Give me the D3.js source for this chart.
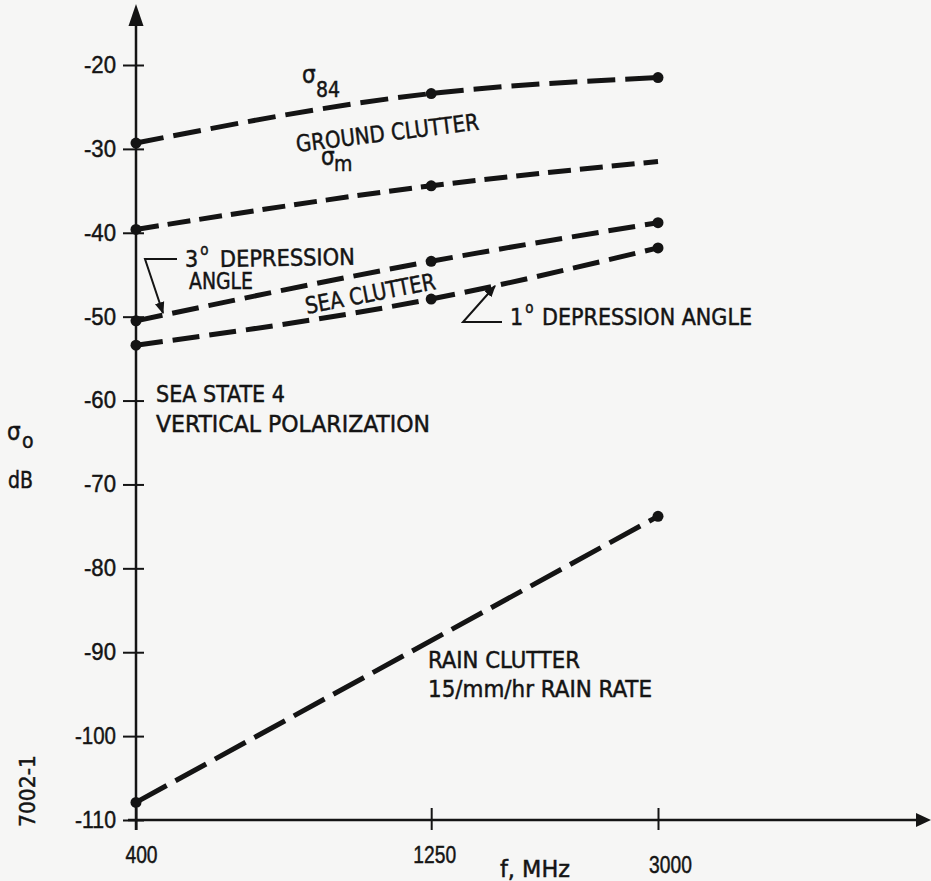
<!DOCTYPE html>
<html>
<head>
<meta charset="utf-8">
<script src="https://cdn.jsdelivr.net/npm/d3@7"></script>
<style>
html, body { margin: 0; padding: 0; background: #f6f6f5; }
svg { display: block; font-family: "DejaVu Sans Condensed", "Liberation Sans Narrow", "DejaVu Sans", sans-serif; font-stretch: condensed; }
svg text { stroke: #141414; stroke-width: 0.45px; }
</style>
</head>
<body>
<div id="container"></div>
<script>
const width = 931;
const height = 881;
const ink = "#141414";

// x: frequency, MHz   y: sigma_o, dB
const freqs = [400, 1250, 3000];
const freqTicks = [400, 1250, 3000];
const dbTicks = [-20, -30, -40, -50, -60, -70, -80, -90, -100, -110];

const ground84 = [-29.3, -23.4, -21.5];
const groundMedian = [-39.6, -34.4, -31.5];
const sea3deg = [-50.5, -43.4, -38.8];
const sea1deg = [-53.4, -47.9, -41.8];
const rainFreqs = [400, 3000];
const rain = [-107.9, -73.8];

// which points carry a dot
const series = [
    { key: "g84", f: freqs, v: ground84, dots: [0, 1, 2] },
    { key: "gm", f: freqs, v: groundMedian, dots: [0, 1] },
    { key: "s3", f: freqs, v: sea3deg, dots: [0, 1, 2] },
    { key: "s1", f: freqs, v: sea1deg, dots: [0, 1, 2] },
    { key: "rain", f: rainFreqs, v: rain, dots: [0, 1] },
];
const dashes = { g84: "28,10", gm: "23,9", s3: "27,10", s1: "27,10", rain: "35,10" };

const x = d3.scaleLog().domain([400, 3000]).range([136, 658]);
const y = d3.scaleLinear().domain([-110, -20]).range([820, 65]);

const svg = d3.select("#container")
    .append("svg")
    .attr("width", width)
    .attr("height", height);

// axes
const yAxis = svg.append("g")
    .attr("transform", `translate(${x(400)},0)`)
    .call(d3.axisLeft(y).tickValues(dbTicks).tickSize(13).tickPadding(7)
        .tickFormat((d) => "-" + Math.abs(d)));
const xAxis = svg.append("g")
    .attr("transform", `translate(0,${y(-110)})`)
    .call(d3.axisBottom(x).tickValues(freqTicks).tickSize(10).tickPadding(17)
        .tickFormat(d3.format("d")));
[yAxis, xAxis].forEach((g) => {
    g.select(".domain").remove();
    g.selectAll("line").attr("stroke", ink).attr("stroke-width", 2);
    g.selectAll("text").attr("fill", ink).attr("font-size", 23)
        .attr("font-family", null)
        .attr("lengthAdjust", "spacingAndGlyphs");
});
yAxis.selectAll(".tick line").attr("x1", 8);
yAxis.selectAll(".tick text").attr("textLength", (d) => (d <= -100 ? 41 : 32));
xAxis.selectAll(".tick line").attr("y1", -12);
xAxis.selectAll(".tick text")
    .attr("textLength", (d) => String(d).length * 10.7)
    .attr("dx", (d) => (d === 3000 ? 12 : d === 400 ? 5 : 3))
    .attr("dy", (d) => (d === 3000 ? "1.15em" : "0.68em"));

svg.append("line")
    .attr("x1", x(400)).attr("x2", x(400))
    .attr("y1", y(-110) + 10).attr("y2", 22)
    .attr("stroke", ink).attr("stroke-width", 2.5);
svg.append("path")
    .attr("d", `M${x(400) - 7.5},26 L${x(400) + 7.5},26 L${x(400)},4 Z`)
    .attr("fill", ink);
svg.append("line")
    .attr("x1", x(400) - 8).attr("x2", 918)
    .attr("y1", y(-110)).attr("y2", y(-110))
    .attr("stroke", ink).attr("stroke-width", 2.5);
svg.append("path")
    .attr("d", `M916,${y(-110) - 7} L916,${y(-110) + 7} L931,${y(-110)} Z`)
    .attr("fill", ink);

// curves
const line = d3.line()
    .x((d) => x(d[0]))
    .y((d) => y(d[1]))
    .curve(d3.curveMonotoneX);

series.forEach((s) => {
    const pts = s.f.map((f, i) => [f, s.v[i]]);
    svg.append("path")
        .attr("d", line(pts))
        .attr("fill", "none")
        .attr("stroke", ink)
        .attr("stroke-width", 5)
        .attr("stroke-dasharray", dashes[s.key]);
    svg.append("g")
        .selectAll("circle")
        .data(s.dots.map((i) => pts[i]))
        .enter()
        .append("circle")
        .attr("cx", (d) => x(d[0]))
        .attr("cy", (d) => y(d[1]))
        .attr("r", 5.5)
        .attr("fill", ink);
});

// annotations
const notes = [
    { t: "GROUND CLUTTER", x: 297, y: 152, len: 184, rot: -7 },
    { t: "SEA CLUTTER", x: 307, y: 314, len: 132, rot: -11 },
    { t: "DEPRESSION", x: 220, y: 267, len: 135, rot: -1 },
    { t: "ANGLE", x: 189, y: 289, len: 64, rot: 0 },
    { t: "DEPRESSION ANGLE", x: 542, y: 325, len: 210, rot: 0 },
    { t: "SEA STATE 4", x: 156, y: 402, len: 129, rot: 0 },
    { t: "VERTICAL POLARIZATION", x: 156, y: 432, len: 274, rot: 0 },
    { t: "RAIN CLUTTER", x: 428, y: 668, len: 152, rot: 0 },
    { t: "15/mm/hr RAIN RATE", x: 428, y: 697, len: 224, rot: 0 },
    { t: "f, MHz", x: 500, y: 877, len: 70, rot: 0 },
    { t: "dB", x: 8, y: 488, len: 25, rot: 0 },
];
svg.append("g")
    .selectAll("text")
    .data(notes)
    .enter()
    .append("text")
    .attr("transform", (d) => `translate(${d.x},${d.y}) rotate(${d.rot})`)
    .attr("textLength", (d) => d.len)
    .attr("lengthAdjust", "spacingAndGlyphs")
    .attr("font-size", 23)
    .attr("fill", ink)
    .text((d) => d.t);

// degree marks: digit with raised small o
[{ n: "3", x: 185, y: 267 }, { n: "1", x: 510, y: 325 }].forEach((d) => {
    const t = svg.append("text").attr("x", d.x).attr("y", d.y)
        .attr("font-size", 23).attr("fill", ink);
    t.append("tspan").text(d.n);
    t.append("tspan").attr("dx", 2).attr("dy", -12).attr("font-size", 15).text("o");
});

// sigma symbols with subscripts
[{ s: "84", x: 302, y: 83, sx: 316, sy: 97 },
 { s: "m", x: 321, y: 165, sx: 334, sy: 171 },
 { s: "o", x: 7, y: 440, sx: 22, sy: 448 }].forEach((d) => {
    svg.append("text").attr("x", d.x).attr("y", d.y)
        .attr("font-size", 24).attr("fill", ink).text("σ");
    svg.append("text").attr("x", d.sx).attr("y", d.sy)
        .attr("font-size", 21).attr("fill", ink).text(d.s);
});

svg.append("text")
    .attr("transform", "translate(35,791) rotate(-90)")
    .attr("text-anchor", "middle")
    .attr("textLength", 72)
    .attr("lengthAdjust", "spacingAndGlyphs")
    .attr("font-size", 21)
    .attr("fill", ink)
    .text("7002-1");

// leader arrows
svg.append("defs").append("marker")
    .attr("id", "tip")
    .attr("viewBox", "0 0 10 10")
    .attr("refX", 9).attr("refY", 5)
    .attr("markerWidth", 6).attr("markerHeight", 6)
    .attr("markerUnits", "strokeWidth")
    .attr("orient", "auto")
    .append("path")
    .attr("d", "M0,1 L10,5 L0,9 Z")
    .attr("fill", ink)
    .attr("stroke", "none");
const leaders = [
    [[177, 259], [145, 259], [163, 313]],
    [[502, 322], [463, 322], [495, 286]],
];
svg.append("g")
    .selectAll("path")
    .data(leaders)
    .enter()
    .append("path")
    .attr("d", (d) => d3.line()(d))
    .attr("fill", "none")
    .attr("stroke", ink)
    .attr("stroke-width", 2)
    .attr("marker-end", "url(#tip)");
</script>
</body>
</html>
